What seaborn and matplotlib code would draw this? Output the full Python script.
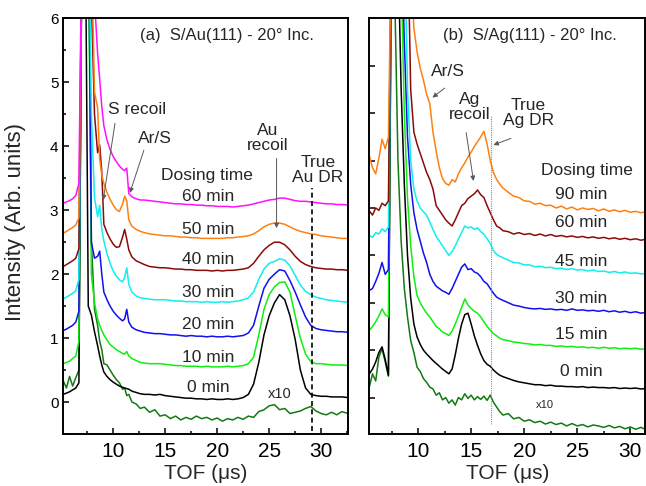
import numpy as np
import pandas as pd
import matplotlib
matplotlib.use("Agg")
import matplotlib.pyplot as plt
import seaborn as sns

# ---------------- data ----------------
# panel (a) S/Au(111): shared TOF grid (us), curves already offset vertically
tof_a = [5.2, 5.5, 5.8, 6.1, 6.4, 6.7, 7.0, 7.3, 7.6, 7.9, 8.2, 8.5, 8.7, 8.9, 9.1, 9.4, 9.7,
         10.0, 10.3, 10.6, 10.9, 11.1, 11.3, 11.5, 11.8, 12.2, 12.6, 13.0, 13.5, 14.0, 14.5,
         15.0, 15.5, 16.0, 16.5, 17.0, 17.5, 18.0, 18.5, 19.0, 19.5, 20.0, 20.5, 21.0, 21.5,
         22.0, 22.5, 23.0, 23.5, 24.0, 24.5, 25.0, 25.5, 26.0, 26.5, 27.0, 27.5, 28.0, 28.5,
         29.0, 29.5, 30.0, 30.5, 31.0, 31.5, 32.0, 32.6]

au_x10 = [0.33, 0.22, 0.40, 0.25, 0.38, 0.50, 7.5, 8, 8, 2.5, 1.45, 1.20, 0.95, 0.82, 0.60, 0.58, 0.50,
          0.42, 0.35, 0.30, 0.20, 0.22, 0.10, 0.12, 0.00, -0.03, -0.10, -0.08, -0.16, -0.12, -0.22,
          -0.20, -0.26, -0.22, -0.28, -0.24, -0.27, -0.22, -0.26, -0.24, -0.28, -0.25, -0.30, -0.26, -0.28,
          -0.24, -0.27, -0.22, -0.24, -0.15, -0.12, -0.06, -0.04, -0.12, -0.10, -0.18, -0.16, -0.14, -0.10,
          -0.07, -0.14, -0.18, -0.20, -0.16, -0.20, -0.15, -0.18]
au_0 = [0.12, 0.14, 0.16, 0.19, 0.22, 0.30, 7.5, 8, 1.50, 1.36, 1.10, 0.88, 0.72, 0.58, 0.47, 0.40, 0.35,
        0.31, 0.28, 0.25, 0.23, 0.22, 0.21, 0.20, 0.17, 0.15, 0.13, 0.12, 0.12, 0.11, 0.12,
        0.10, 0.09, 0.08, 0.07, 0.06, 0.06, 0.05, 0.05, 0.04, 0.05, 0.04, 0.04, 0.05, 0.04,
        0.05, 0.07, 0.12, 0.28, 0.62, 1.05, 1.35, 1.55, 1.68, 1.60, 1.35, 0.98, 0.50, 0.22,
        0.12, 0.10, 0.09, 0.09, 0.08, 0.08, 0.08, 0.07]
au_10 = [0.60, 0.62, 0.64, 0.68, 0.72, 0.95, 7.5, 8, 7.5, 2.0, 1.55, 1.30, 1.20, 1.12, 1.05, 0.97, 0.90,
         0.86, 0.82, 0.79, 0.76, 0.75, 0.79, 0.72, 0.68, 0.65, 0.62, 0.61, 0.60, 0.60, 0.60,
         0.59, 0.58, 0.57, 0.57, 0.56, 0.56, 0.56, 0.55, 0.56, 0.55, 0.55, 0.55, 0.56, 0.55,
         0.56, 0.57, 0.60, 0.70, 1.05, 1.45, 1.68, 1.80, 1.87, 1.88, 1.72, 1.35, 1.00, 0.75,
         0.63, 0.60, 0.60, 0.59, 0.58, 0.58, 0.58, 0.57]
au_20 = [1.12, 1.14, 1.17, 1.20, 1.25, 1.42, 7.5, 8, 8, 2.50, 2.25, 2.28, 2.36, 2.00, 1.72, 1.60, 1.50,
         1.42, 1.36, 1.31, 1.27, 1.30, 1.45, 1.25, 1.17, 1.13, 1.11, 1.09, 1.08, 1.07, 1.07,
         1.06, 1.05, 1.05, 1.04, 1.03, 1.04, 1.03, 1.03, 1.02, 1.03, 1.02, 1.02, 1.03, 1.02,
         1.03, 1.04, 1.08, 1.20, 1.50, 1.78, 1.92, 2.00, 2.07, 2.05, 1.90, 1.72, 1.52, 1.33,
         1.20, 1.15, 1.13, 1.12, 1.11, 1.10, 1.10, 1.09]
au_30 = [1.62, 1.64, 1.67, 1.70, 1.74, 1.92, 7.5, 8, 8, 4.50, 3.20, 2.90, 3.08, 2.70, 2.52, 2.32, 2.17,
         2.05, 1.97, 1.91, 1.88, 1.95, 2.10, 1.84, 1.72, 1.66, 1.63, 1.62, 1.61, 1.60, 1.60,
         1.60, 1.59, 1.58, 1.58, 1.57, 1.57, 1.57, 1.56, 1.57, 1.56, 1.56, 1.57, 1.56, 1.57,
         1.58, 1.60, 1.63, 1.72, 1.92, 2.08, 2.17, 2.20, 2.24, 2.22, 2.13, 1.98, 1.83, 1.73,
         1.68, 1.64, 1.62, 1.60, 1.59, 1.58, 1.57, 1.56]
au_40 = [2.12, 2.15, 2.18, 2.21, 2.25, 2.40, 7.5, 8, 8, 6.30, 4.50, 3.90, 4.02, 3.60, 2.78, 2.65, 2.55,
         2.47, 2.42, 2.43, 2.58, 2.70, 2.55, 2.38, 2.27, 2.21, 2.18, 2.15, 2.12, 2.11, 2.10,
         2.10, 2.09, 2.08, 2.08, 2.07, 2.07, 2.06, 2.06, 2.06, 2.05, 2.06, 2.05, 2.06, 2.06,
         2.07, 2.08, 2.10, 2.17, 2.28, 2.38, 2.45, 2.50, 2.50, 2.46, 2.38, 2.28, 2.20, 2.15,
         2.12, 2.10, 2.09, 2.08, 2.08, 2.07, 2.07, 2.06]
au_50 = [2.64, 2.67, 2.70, 2.73, 2.77, 2.88, 7.5, 8, 8, 7.20, 4.85, 4.60, 3.80, 3.55, 3.42, 3.28, 3.17,
         3.08, 3.01, 2.98, 3.10, 3.22, 3.15, 2.85, 2.75, 2.70, 2.67, 2.65, 2.63, 2.62, 2.61,
         2.60, 2.60, 2.59, 2.58, 2.58, 2.57, 2.57, 2.56, 2.56, 2.56, 2.56, 2.56, 2.57, 2.57,
         2.58, 2.59, 2.60, 2.63, 2.68, 2.74, 2.78, 2.80, 2.80, 2.78, 2.74, 2.70, 2.67, 2.65,
         2.63, 2.62, 2.60, 2.59, 2.58, 2.57, 2.56, 2.56]
au_60 = [3.11, 3.13, 3.15, 3.18, 3.23, 3.42, 7.5, 8, 8, 8, 6.30, 5.45, 5.05, 4.62, 4.32, 4.10, 3.95,
         3.84, 3.76, 3.69, 3.64, 3.62, 3.66, 3.26, 3.21, 3.18, 3.16, 3.16, 3.15, 3.14, 3.13,
         3.12, 3.11, 3.10, 3.10, 3.09, 3.09, 3.08, 3.08, 3.07, 3.07, 3.06, 3.06, 3.06, 3.05,
         3.06, 3.07, 3.08, 3.10, 3.12, 3.14, 3.16, 3.17, 3.19, 3.19, 3.17, 3.15, 3.14, 3.14,
         3.13, 3.12, 3.11, 3.10, 3.10, 3.09, 3.09, 3.08]

# panel (b) S/Ag(111)
tof_b = [5.4, 5.7, 6.0, 6.3, 6.6, 6.9, 7.2, 7.5, 7.8, 8.1, 8.4, 8.7, 9.0, 9.3, 9.6, 9.9, 10.2,
         10.5, 10.8, 11.1, 11.4, 11.7, 12.0, 12.3, 12.6, 12.9, 13.2, 13.5, 13.8, 14.1, 14.4,
         14.7, 15.0, 15.3, 15.6, 15.9, 16.2, 16.5, 16.8, 17.1, 17.4, 17.7, 18.0, 18.5, 19.0,
         19.5, 20.0, 20.5, 21.0, 21.5, 22.0, 22.5, 23.0, 23.5, 24.0, 24.5, 25.0, 25.5, 26.0,
         26.5, 27.0, 27.5, 28.0, 28.5, 29.0, 29.5, 30.0, 30.5, 31.0, 31.5, 32.0]

ag_x10 = [0.22, 0.50, 0.35, 0.85, 1.03, 0.75, 0.45, 10, 8.5, 5.0, 3.3, 2.3, 1.7, 1.2, 0.95, 0.64, 0.55,
          0.40, 0.32, 0.22, 0.18, 0.05, 0.10, -0.05, 0.00, -0.12, -0.05, -0.16, 0.00, -0.05, 0.08,
          -0.02, 0.05, -0.05, 0.02, -0.04, 0.03, -0.06, 0.05, -0.10, -0.20, -0.30, -0.37, -0.34, -0.45,
          -0.42, -0.50, -0.47, -0.53, -0.50, -0.56, -0.52, -0.57, -0.54, -0.60, -0.55, -0.60, -0.57, -0.62,
          -0.58, -0.60, -0.63, -0.59, -0.64, -0.61, -0.66, -0.62, -0.67, -0.63, -0.68, -0.64]
ag_0 = [0.50, 0.60, 0.75, 0.95, 1.07, 0.80, 0.47, 10, 10, 9.5, 6.5, 4.5, 3.0, 2.1, 1.55, 1.28, 1.12,
        1.00, 0.92, 0.85, 0.78, 0.72, 0.66, 0.60, 0.55, 0.50, 0.60, 0.90, 1.25, 1.55, 1.75,
        1.78, 1.55, 1.30, 1.10, 0.92, 0.78, 0.70, 0.66, 0.58, 0.52, 0.47, 0.44, 0.40, 0.36,
        0.33, 0.31, 0.29, 0.27, 0.27, 0.25, 0.26, 0.24, 0.24, 0.23, 0.23, 0.22, 0.23, 0.21,
        0.22, 0.21, 0.21, 0.20, 0.21, 0.19, 0.20, 0.19, 0.20, 0.18, 0.19, 0.18]
ag_15 = [1.42, 1.50, 1.60, 1.72, 1.87, 1.75, 1.70, 10, 10, 10, 9.0, 6.0, 4.2, 3.2, 2.55, 2.15, 2.00,
         1.88, 1.78, 1.70, 1.60, 1.50, 1.45, 1.38, 1.35, 1.31, 1.40, 1.55, 1.72, 1.90, 2.08,
         1.95, 1.88, 1.82, 1.78, 1.70, 1.60, 1.50, 1.42, 1.35, 1.30, 1.25, 1.22, 1.20, 1.17,
         1.16, 1.14, 1.13, 1.11, 1.12, 1.10, 1.10, 1.08, 1.09, 1.07, 1.08, 1.06, 1.07, 1.05,
         1.06, 1.04, 1.06, 1.04, 1.05, 1.03, 1.04, 1.03, 1.04, 1.02, 1.03, 1.02]
ag_30 = [2.26, 2.30, 2.45, 2.62, 2.85, 2.60, 2.70, 10, 10, 10, 10, 7.5, 5.5, 4.5, 3.9, 3.55, 3.30,
         3.05, 2.85, 2.60, 2.45, 2.35, 2.30, 2.25, 2.22, 2.18, 2.30, 2.45, 2.60, 2.75, 2.82,
         2.70, 2.72, 2.65, 2.62, 2.55, 2.45, 2.40, 2.30, 2.20, 2.12, 2.08, 2.05, 2.00, 1.95,
         1.93, 1.90, 1.88, 1.87, 1.88, 1.86, 1.87, 1.85, 1.86, 1.84, 1.87, 1.84, 1.85, 1.83,
         1.84, 1.82, 1.84, 1.81, 1.83, 1.80, 1.82, 1.79, 1.81, 1.78, 1.80, 1.77]
ag_45 = [3.42, 3.38, 3.48, 3.45, 3.56, 3.50, 3.60, 10, 10, 10, 10, 10, 6.5, 5.0, 4.4, 4.15, 4.00,
         3.92, 3.85, 3.70, 3.55, 3.40, 3.30, 3.20, 3.10, 3.00, 3.08, 3.20, 3.35, 3.48, 3.62,
         3.58, 3.60, 3.55, 3.58, 3.50, 3.45, 3.35, 3.25, 3.10, 3.02, 2.98, 2.95, 2.90, 2.85,
         2.84, 2.80, 2.80, 2.76, 2.77, 2.74, 2.75, 2.72, 2.73, 2.70, 2.72, 2.69, 2.70, 2.67,
         2.69, 2.66, 2.67, 2.64, 2.66, 2.63, 2.65, 2.62, 2.63, 2.61, 2.62, 2.60]
ag_60 = [3.94, 3.85, 4.00, 3.95, 4.10, 4.05, 4.15, 10, 10, 10, 10, 10, 10, 6.5, 5.6, 5.35, 5.15,
         4.95, 4.75, 4.60, 4.40, 4.05, 3.95, 3.85, 3.75, 3.68, 3.62, 3.75, 3.90, 4.05, 4.10,
         4.20, 4.25, 4.30, 4.38, 4.28, 4.22, 4.05, 3.90, 3.75, 3.62, 3.58, 3.52, 3.50, 3.45,
         3.48, 3.44, 3.46, 3.42, 3.45, 3.41, 3.44, 3.40, 3.42, 3.39, 3.41, 3.38, 3.40, 3.37,
         3.39, 3.36, 3.38, 3.35, 3.37, 3.34, 3.36, 3.33, 3.35, 3.32, 3.34, 3.32]
ag_90 = [5.10, 4.85, 4.72, 5.05, 5.45, 5.25, 5.50, 10, 10, 10, 10, 10, 10, 9.0, 7.8, 7.3, 6.95,
         6.70, 6.40, 6.20, 5.60, 5.20, 4.85, 4.62, 4.52, 4.48, 4.60, 4.55, 4.72, 4.85, 4.95,
         5.08, 5.18, 5.30, 5.40, 5.50, 5.62, 5.35, 5.00, 4.75, 4.60, 4.50, 4.42, 4.33, 4.25,
         4.22, 4.15, 4.14, 4.08, 4.10, 4.05, 4.06, 4.00, 4.04, 3.98, 4.02, 3.96, 4.00, 3.97,
         3.99, 3.94, 3.98, 3.93, 3.96, 3.92, 3.95, 3.91, 3.93, 3.90, 3.92, 3.89]

labels_a = ["x10", "0 min", "10 min", "20 min", "30 min", "40 min", "50 min", "60 min"]
labels_b = ["x10", "0 min", "15 min", "30 min", "45 min", "60 min", "90 min"]
series_a = [au_x10, au_0, au_10, au_20, au_30, au_40, au_50, au_60]
series_b = [ag_x10, ag_0, ag_15, ag_30, ag_45, ag_60, ag_90]

colors_a = ["#127a12", "black", "#11ee11", "#1010f0", "#10eeee", "#8b0a0a", "#ff8010", "#ff10ff"]
colors_b = ["#127a12", "black", "#11ee11", "#1010f0", "#10eeee", "#8b0a0a", "#ff8010"]


def long_form(tof, series, labels):
    frames = []
    for lab, ys in zip(labels, series):
        frames.append(pd.DataFrame({"tof": tof, "inten": ys, "dose": lab}))
    return pd.concat(frames, ignore_index=True)


df_a = long_form(tof_a, series_a, labels_a)
df_b = long_form(tof_b, series_b, labels_b)

sns.set_theme(style="ticks")
plt.rcParams["font.family"] = ["Liberation Sans", "DejaVu Sans"]

fig = plt.figure(figsize=(6.46, 4.86), dpi=100)
ax_a = fig.add_axes([0.098, 0.107, 0.441, 0.855])
ax_b = fig.add_axes([0.5717, 0.107, 0.427, 0.855])

sns.lineplot(data=df_a, x="tof", y="inten", hue="dose", palette=dict(zip(labels_a, colors_a)),
             estimator=None, sort=False, legend=False, lw=1.1, ax=ax_a)
sns.lineplot(data=df_b, x="tof", y="inten", hue="dose", palette=dict(zip(labels_b, colors_b)),
             estimator=None, sort=False, legend=False, lw=1.1, ax=ax_b)

# axes styling
for ax in (ax_a, ax_b):
    for sp in ax.spines.values():
        sp.set_linewidth(1.4)
        sp.set_color("black")
    ax.tick_params(which="both", direction="in", top=False, right=False, width=1.1, colors="black")
    ax.tick_params(which="major", length=4.5)
    ax.tick_params(which="minor", length=2.5)
    ax.tick_params(axis="x", labelsize=15, pad=6)
    ax.set_xticks([10, 15, 20, 25, 30])
    ax.set_xticks([7.5, 12.5, 17.5, 22.5, 27.5, 32.5], minor=True)
    ax.set_xlabel("TOF (\u03bcs)", fontsize=15, labelpad=2)

ax_a.set_xlim(5.2, 32.6)
ax_a.set_ylim(-0.5, 6)
ax_a.set_yticks([0, 1, 2, 3, 4, 5, 6])
ax_a.set_yticks([-0.5, 0.5, 1.5, 2.5, 3.5, 4.5, 5.5], minor=True)
ax_a.tick_params(axis="y", labelsize=11)
ax_a.set_ylabel("Intensity (Arb. units)", fontsize=16)
ax_a.yaxis.set_label_coords(-0.13, 0.51)

ax_b.set_xlim(5.4, 31.4)
ax_b.set_ylim(-0.77, 8)
ax_b.set_yticks(range(0, 9))
ax_b.set_yticklabels([])
ax_b.set_ylabel("")

# reference lines
ax_a.plot([29.15, 29.15], [-0.45, 3.35], color="black", lw=1.2, ls=(0, (3, 2)))
ax_b.plot([16.85, 16.85], [-0.55, 5.95], color="0.55", lw=0.8, ls=(0, (1, 1)))

fs = 12.5
# panel (a) texts
ax_a.text(20.9, 5.73, "(a)  S/Au(111) - 20\u00b0 Inc.", fontsize=12, ha="center", va="center")
ax_a.text(12.3, 4.57, "S recoil", fontsize=fs, ha="center", va="center")
ax_a.text(14.0, 4.13, "Ar/S", fontsize=fs, ha="center", va="center")
ax_a.text(24.85, 4.13, "Au\nrecoil", fontsize=fs, ha="center", va="center", linespacing=1.0)
ax_a.text(29.7, 3.63, "True\nAu DR", fontsize=fs, ha="center", va="center", linespacing=1.0)
ax_a.text(18.98, 3.54, "Dosing time", fontsize=fs, ha="center", va="center")
pos_a = {"60 min": 3.22, "50 min": 2.70, "40 min": 2.23, "30 min": 1.71,
         "20 min": 1.21, "10 min": 0.69, "0 min": 0.22}
for lab, yv in pos_a.items():
    ax_a.text(19.13, yv, lab, fontsize=fs, ha="center", va="center")
ax_a.text(26.0, 0.13, "x10", fontsize=10.5, ha="center", va="center")

arrow = dict(arrowstyle="-|>", color="0.35", lw=0.7, mutation_scale=7, shrinkA=0, shrinkB=0)
ax_a.annotate("", xy=(9.04, 3.16), xytext=(10.17, 4.36), arrowprops=arrow)
ax_a.annotate("", xy=(11.6, 3.27), xytext=(12.95, 3.94), arrowprops=arrow)
ax_a.annotate("", xy=(25.71, 2.72), xytext=(25.71, 3.81), arrowprops=arrow)

# panel (b) texts
ax_b.text(20.56, 7.63, "(b)  S/Ag(111) - 20\u00b0 Inc.", fontsize=12, ha="center", va="center")
ax_b.text(12.81, 6.89, "Ar/S", fontsize=fs, ha="center", va="center")
ax_b.text(14.85, 6.13, "Ag\nrecoil", fontsize=fs, ha="center", va="center", linespacing=1.0)
ax_b.text(20.4, 6.0, "True\nAg DR", fontsize=fs, ha="center", va="center", linespacing=1.0)
ax_b.text(25.93, 4.79, "Dosing time", fontsize=fs, ha="center", va="center")
pos_b = {"90 min": 4.29, "60 min": 3.70, "45 min": 2.88, "30 min": 2.08,
         "15 min": 1.33, "0 min": 0.54}
for lab, yv in pos_b.items():
    ax_b.text(25.4, yv, lab, fontsize=fs, ha="center", va="center")
ax_b.text(21.97, -0.16, "x10", fontsize=8, ha="center", va="center")

ax_b.annotate("", xy=(11.35, 6.33), xytext=(12.5, 6.53), arrowprops=arrow)
ax_b.annotate("", xy=(15.22, 4.57), xytext=(14.53, 5.59), arrowprops=arrow)
ax_b.annotate("", xy=(17.1, 5.33), xytext=(18.75, 5.47), arrowprops=arrow)

fig.savefig("out.png", dpi=100)
